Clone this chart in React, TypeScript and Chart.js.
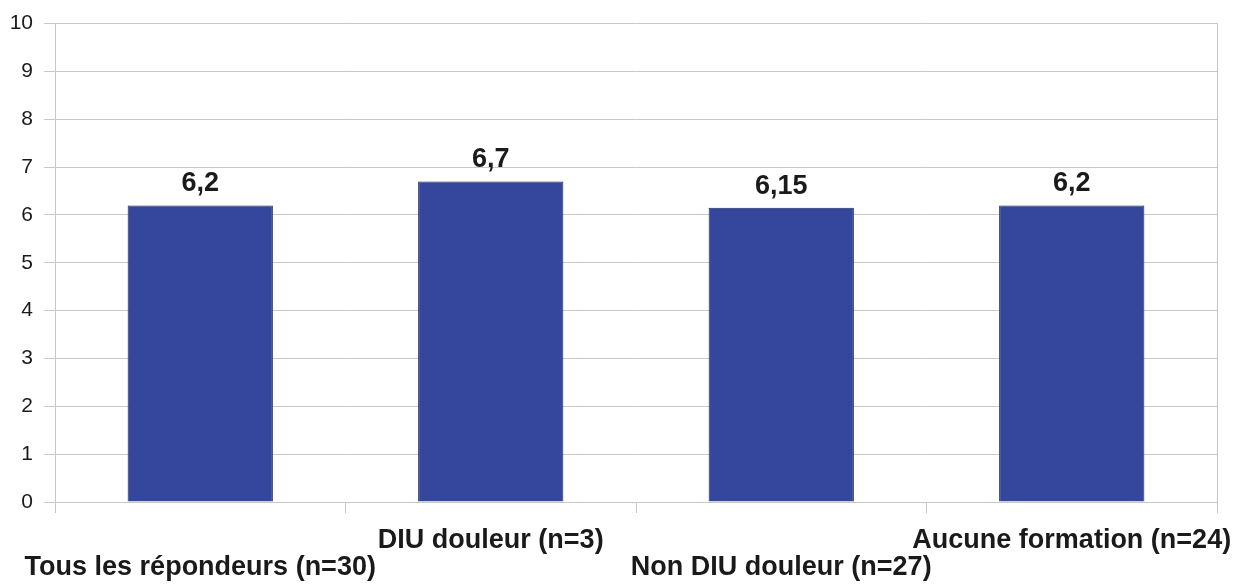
import { Chart, registerables } from 'chart.js';
import { useEffect, useRef } from 'react';

Chart.register(...registerables);

const categories = [
  'Tous les répondeurs (n=30)',
  'DIU douleur (n=3)',
  'Non DIU douleur (n=27)',
  'Aucune formation (n=24)',
];
const scores = [6.2, 6.7, 6.15, 6.2];

const FONT = '"Liberation Sans", Arial, sans-serif';

const valueLabels = {
  id: 'valueLabels',
  afterDatasetsDraw(chart: any) {
    const ctx = chart.ctx;
    const meta = chart.getDatasetMeta(0);
    ctx.save();
    ctx.font = `bold 27px ${FONT}`;
    ctx.fillStyle = '#1a1a1a';
    ctx.textAlign = 'center';
    ctx.textBaseline = 'alphabetic';
    meta.data.forEach((bar: any, i: number) => {
      const txt = String(scores[i]).replace('.', ',');
      ctx.fillText(txt, bar.x, bar.y - 14);
    });
    ctx.restore();
  },
};

const App: React.FC = () => {
  const canvasRef = useRef<HTMLCanvasElement | null>(null);
  const chartRef = useRef<Chart | null>(null);

  useEffect(() => {
    if (!canvasRef.current) return;
    chartRef.current = new Chart(canvasRef.current, {
      type: 'bar',
      data: {
        labels: categories,
        datasets: [
          {
            data: scores,
            backgroundColor: '#34479c',
            borderColor: '#1c2558',
            borderWidth: 1,
            barPercentage: 1,
            categoryPercentage: 0.5,
          },
        ],
      },
      options: {
        animation: false,
        responsive: true,
        maintainAspectRatio: false,
        layout: { padding: { top: 23, right: 20, left: 0, bottom: 0 } },
        plugins: {
          legend: { display: false },
          tooltip: { enabled: false },
        },
        scales: {
          x: {
            offset: true,
            grid: {
              offset: true,
              drawOnChartArea: false,
              tickLength: 11,
              color: '#c8c8c8',
            },
            border: { color: '#c8c8c8' },
            ticks: {
              padding: 14,
              maxRotation: 0,
              autoSkip: false,
              color: '#1a1a1a',
              font: { family: FONT, size: 27, weight: 'bold', lineHeight: 1 },
              callback: (_v: any, i: number) => (i % 2 === 0 ? ['', categories[i]] : [categories[i]]),
            },
            afterFit: (scale: any) => {
              scale.height = 82;
              scale.paddingLeft = 0;
              scale.paddingRight = 0;
            },
          },
          y: {
            min: 0,
            max: 10,
            grid: { color: '#c8c8c8', tickLength: 11 },
            border: { color: '#c8c8c8' },
            ticks: {
              stepSize: 1,
              padding: 11,
              color: '#1a1a1a',
              font: { family: FONT, size: 21 },
            },
            afterFit: (scale: any) => {
              scale.width = 55;
            },
          },
          yRight: {
            position: 'right',
            min: 0,
            max: 10,
            grid: { drawOnChartArea: false, drawTicks: false },
            border: { color: '#c8c8c8' },
            ticks: { display: false },
            afterFit: (scale: any) => {
              scale.width = 0;
            },
          },
        },
      },
      plugins: [valueLabels],
    });
    return () => {
      chartRef.current?.destroy();
    };
  }, []);

  return (
    <div style={{ position: 'fixed', left: 0, top: 0, width: 1237, height: 584, background: '#fff' }}>
      <canvas ref={canvasRef} />
    </div>
  );
};

export default App;
